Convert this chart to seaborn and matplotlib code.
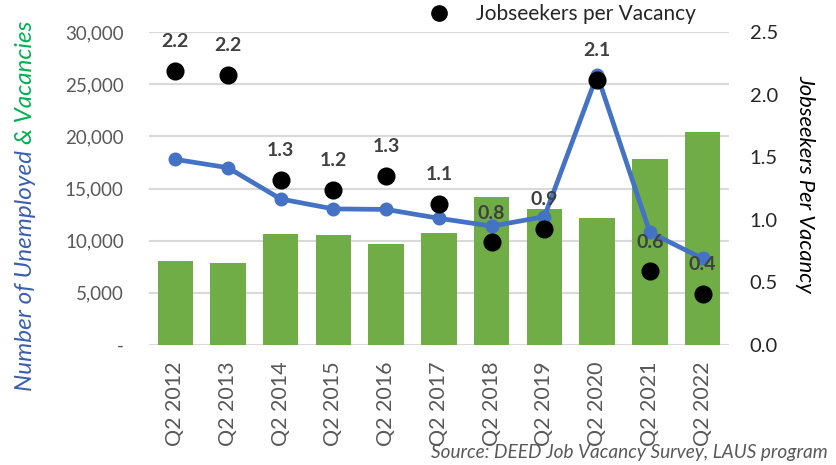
import matplotlib
matplotlib.use('Agg')
import matplotlib.pyplot as plt
import seaborn as sns
import pandas as pd
from matplotlib.lines import Line2D
from matplotlib.ticker import FuncFormatter, MultipleLocator

# data
quarters = ['Q2 2012', 'Q2 2013', 'Q2 2014', 'Q2 2015', 'Q2 2016', 'Q2 2017',
            'Q2 2018', 'Q2 2019', 'Q2 2020', 'Q2 2021', 'Q2 2022']
vacancies = [8100, 7900, 10650, 10550, 9700, 10700, 14200, 13000, 12200, 17800, 20400]
unemployed = [17800, 17000, 14000, 13050, 13000, 12150, 11400, 12300, 25900, 10800, 8300]
ratio = [2.19, 2.16, 1.32, 1.24, 1.35, 1.13, 0.82, 0.93, 2.12, 0.59, 0.41]
ratio_labels = ['2.2', '2.2', '1.3', '1.2', '1.3', '1.1', '0.8', '0.9', '2.1', '0.6', '0.4']

df = pd.DataFrame({'quarter': quarters, 'vacancies': vacancies,
                   'unemployed': unemployed, 'ratio': ratio})

sns.set_style('white')
plt.rcParams['font.family'] = ['Lato', 'DejaVu Sans']

GREEN = '#70AD47'
BLUE = '#4472C4'
GRAY = '#595959'

fig = plt.figure(figsize=(8.36, 4.65), dpi=100)
ax = fig.add_axes([0.178, 0.258, 0.694, 0.673])

sns.barplot(data=df, x='quarter', y='vacancies', color=GREEN, saturation=1,
            width=0.67, linewidth=0, ax=ax)
sns.pointplot(data=df, x='quarter', y='unemployed', color=BLUE, markers='o',
              markersize=7.5, linewidth=3.4, errorbar=None, ax=ax)

ax.set_ylim(0, 30000)
ax.yaxis.set_major_locator(MultipleLocator(5000))
ax.yaxis.set_major_formatter(FuncFormatter(lambda v, p: '-' if v == 0 else f'{int(v):,}'))
ax.set_axisbelow(True)
ax.yaxis.grid(True, color='#D9D9D9', linewidth=1.5)
ax.set_xlabel('')
ax.set_ylabel('')
ax.tick_params(axis='y', length=0, pad=18, labelsize=13.5, labelcolor=GRAY)
ax.tick_params(axis='x', length=0, pad=12, labelsize=15.5, labelcolor=GRAY, rotation=90)
for s in ax.spines.values():
    s.set_visible(False)

ax2 = ax.twinx()
sns.pointplot(data=df, x='quarter', y='ratio', color='black', markers='o',
              linestyles='none', markersize=11, errorbar=None, ax=ax2)
ax2.set_ylim(0, 2.5)
ax2.yaxis.set_major_locator(MultipleLocator(0.5))
ax2.yaxis.set_major_formatter(FuncFormatter(lambda v, p: f'{v:.1f}'))
ax2.tick_params(axis='y', length=0, pad=15, labelsize=14.5, labelcolor='#262626')
ax2.set_ylabel('')
ax2.set_xlabel('')
for s in ax2.spines.values():
    s.set_visible(False)

for i, (r, lab) in enumerate(zip(ratio, ratio_labels)):
    ax2.annotate(lab, (i, r), xytext=(0, 21), textcoords='offset points',
                 ha='center', va='center', fontsize=14, fontweight='bold',
                 color='#404040')

fig.legend(handles=[Line2D([], [], marker='o', color='black', linestyle='none', markersize=11)],
           labels=['Jobseekers per Vacancy'], loc='center', bbox_to_anchor=(0.666, 0.97),
           frameon=False, fontsize=15, handletextpad=0.8)

# two-colour left axis title
fig.canvas.draw()
r = fig.canvas.get_renderer()
t1 = fig.text(0.031, 0, 'Number of Unemployed ', rotation=90, ha='center', va='bottom',
              color='#3A5FB0', fontsize=17.5, style='italic')
t2 = fig.text(0.031, 0, '& Vacancies', rotation=90, ha='center', va='bottom',
              color='#00B050', fontsize=17.5, style='italic')
h1 = t1.get_window_extent(r).height / fig.bbox.height
h2 = t2.get_window_extent(r).height / fig.bbox.height
y0 = (1 - 206 / 465) - (h1 + h2) / 2
t1.set_y(y0)
t2.set_y(y0 + h1)

fig.text(0.963, 1 - 184 / 465, 'Jobseekers Per Vacancy', rotation=270, ha='center',
         va='center', fontsize=15.8, style='italic', color='black')

fig.text(0.99, 0.008, 'Source: DEED Job Vacancy Survey, LAUS program', ha='right',
         va='bottom', fontsize=13.7, style='italic', color=GRAY)

fig.savefig('out.png', dpi=100)
